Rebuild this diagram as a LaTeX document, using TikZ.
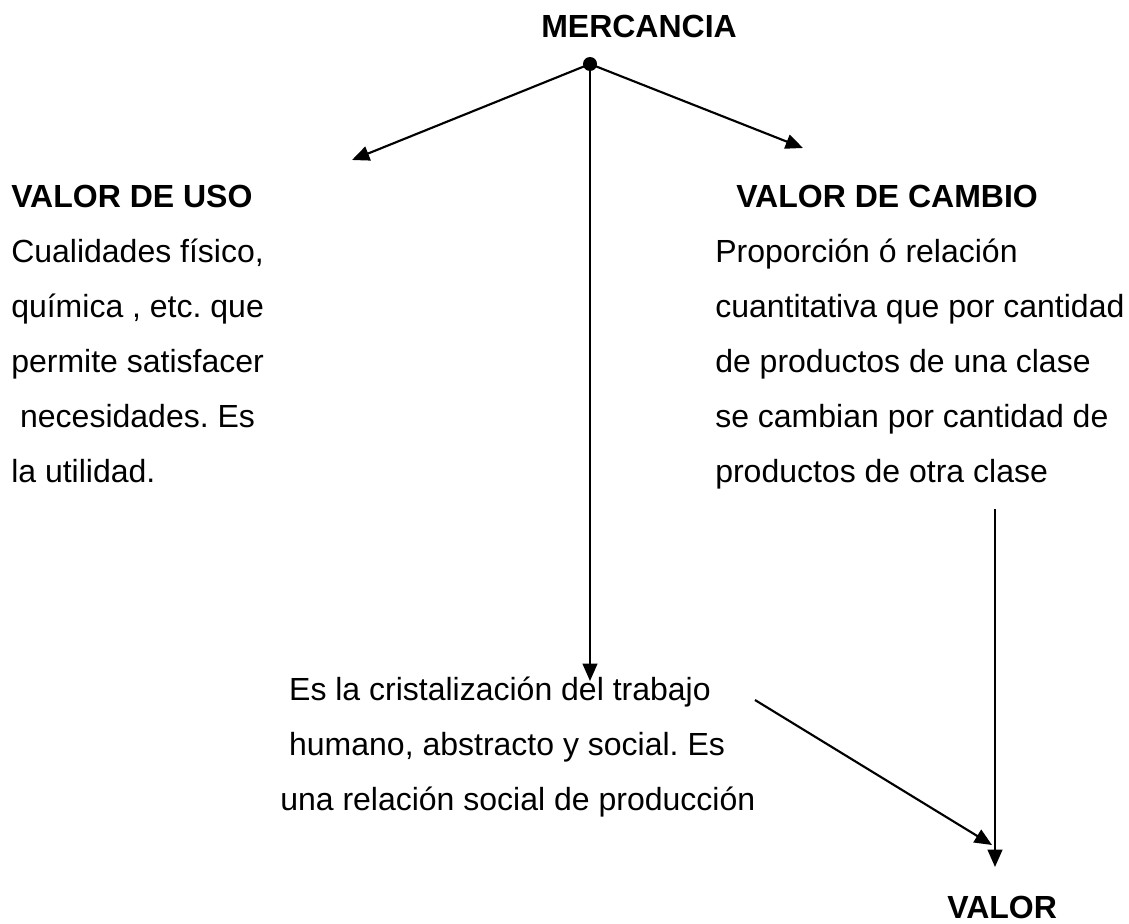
\documentclass[tikz,border=0pt]{standalone}
\usepackage{fontspec}
\setmainfont{Liberation Sans}
\usetikzlibrary{arrows.meta}

\begin{document}
\frenchspacing
\begin{tikzpicture}[x=0.75pt,y=-0.75pt,
    txt/.style={
        anchor=base west,
        inner sep=0pt,
        font=\fontsize{24}{28}\selectfont
    },
    head/.style={
        txt,
        font=\fontsize{24}{28}\selectfont\bfseries
    },
    flecha/.style={
        line width=1.6pt,
        -{Triangle[length=13pt,width=11pt]}
    }
    ]
    \useasboundingbox (0,0) rectangle (1129,924);
    % titulo y punto de partida
    \node[head] (mercancia) at (541,38) {MERCANCIA};
    \node[circle,fill,inner sep=0pt,minimum size=10.5pt] (dot) at (590,64) {};
    % valor de uso
    \node[head] (uso) at (11,207) {VALOR DE USO};
    \node[txt] (uso1) at (11,262) {Cualidades físico,};
    \node[txt] (uso2) at (11,317) {química , etc. que};
    \node[txt] (uso3) at (11,372) {permite satisfacer};
    \node[txt] (uso4) at (11,427) {\ necesidades. Es};
    \node[txt] (uso5) at (11,482) {la utilidad.};
    % valor de cambio
    \node[head] (cambio) at (736,207) {VALOR DE CAMBIO};
    \node[txt] (cambio1) at (715,262) {Proporción ó relación};
    \node[txt] (cambio2) at (715,317) {cuantitativa que por cantidad};
    \node[txt] (cambio3) at (715,372) {de productos de una clase};
    \node[txt] (cambio4) at (715,427) {se cambian por cantidad de};
    \node[txt] (cambio5) at (715,482) {productos de otra clase};
    % trabajo
    \node[txt] (trabajo1) at (280,700) {\ Es la cristalización del trabajo};
    \node[txt] (trabajo2) at (280,755) {\ humano, abstracto y social. Es};
    \node[txt] (trabajo3) at (280,810) {una relación social de producción};
    \node[head] (valor) at (947,918) {VALOR};
    % extremos de las flechas
    \coordinate (usotip) at (352,160);
    \coordinate (cambiotip) at (803,148);
    \coordinate (mediotip) at (590,681);
    \coordinate (cambiobase) at (995,509);
    \coordinate (valortip) at (995,867);
    \coordinate (diagbase) at (755,700);
    \coordinate (diagtip) at (992,845);
    \draw[flecha] (dot.center) -- (usotip);
    \draw[flecha] (dot.center) -- (cambiotip);
    \draw[flecha] (dot.center) -- (mediotip);
    \draw[flecha] (cambiobase) -- (valortip);
    \draw[flecha] (diagbase) -- (diagtip);
\end{tikzpicture}
\end{document}
